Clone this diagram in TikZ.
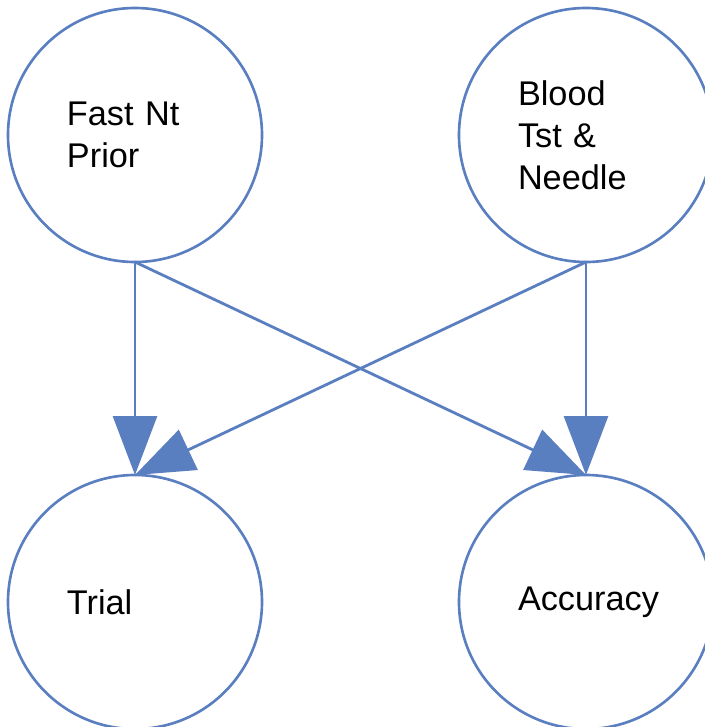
\documentclass[tikz,border=0pt]{standalone}
\usepackage{fontspec}
\setmainfont{Liberation Sans}
\usetikzlibrary{arrows.meta, positioning}
\definecolor{cblue}{HTML}{5A7FC0}
\tikzset{
  every picture/.style={font=\fontsize{19.5pt}{23.9pt}\selectfont},
  var/.style={circle, draw=cblue, line width=1.5pt, minimum size=5.08cm, inner sep=0pt, outer sep=0pt, text width=2.72cm, align=left},
  arrow/.style={-{Triangle[length=1.18cm, width=0.88cm]}, draw=cblue, fill=cblue, line width=1.6pt},
}
\begin{document}
\begin{tikzpicture}
  \useasboundingbox (-2.7,2.7) rectangle (11.4,-11.84);
  \node[var] (fast) at (0,0) {Fast Nt\\Prior};
  \node[var, right=3.94cm of fast] (blood) {Blood\\Tst \&\\Needle};
  \node[var, below=4.26cm of fast] (trial) {Trial};
  \node[var, below=4.26cm of blood] (acc) {Accuracy};
  \draw[arrow] (fast.south) -- (trial.north);
  \draw[arrow] (fast.south) -- (acc.north);
  \draw[arrow] (blood.south) -- (trial.north);
  \draw[arrow] (blood.south) -- (acc.north);
\end{tikzpicture}
\end{document}
